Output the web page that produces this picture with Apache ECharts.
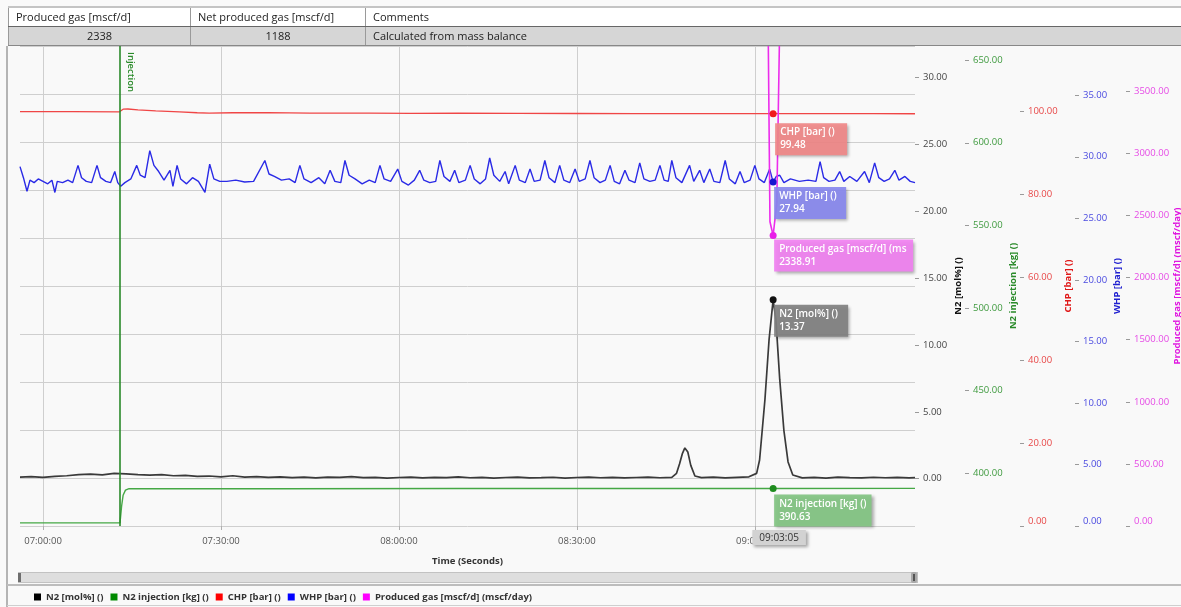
<!DOCTYPE html>
<html>
<head>
<meta charset="utf-8">
<script src="https://cdn.jsdelivr.net/npm/echarts@6/dist/echarts.min.js"></script>
<style>
  html, body { margin: 0; padding: 0; width: 1181px; height: 607px; overflow: hidden; background: #f9f9f9; font-family: 'Open Sans', sans-serif; }
  #chart { position: absolute; left: 0; top: 0; width: 1181px; height: 607px; }
  #summary { position: absolute; left: 8px; top: 6px; width: 1173px; border-collapse: collapse; font-size: 11px; color: #222; z-index: 2; table-layout: fixed; }
  #summary td { height: 18px; padding: 0 7px; border-left: 1px solid #9a9a9a; white-space: nowrap; overflow: hidden; line-height: 18px; }
  #summary tr.head td { background: #ffffff; border-top: 2px solid #c4c4c4; border-bottom: 1px solid #666; }
  #summary tr.vals td { background: #d6d6d6; border-bottom: 1px solid #888; }
  #summary td.c { text-align: center; }
  .rule { position: absolute; z-index: 2; }
  #frameLeft { left: 6px; top: 46px; width: 2px; height: 561px; background: #b4b4b4; }
  #scrollTrack { left: 18px; top: 572px; width: 898px; height: 9px; background: #dedede; border: 1px solid #c2c2c2; }
  #scrollHandleL { left: 18px; top: 573px; width: 3px; height: 9px; background: #6e6e6e; }
  #scrollHandleR { left: 911px; top: 572px; width: 6px; height: 11px; background: #a9a9a9; border-radius: 2px; }
  #scrollHandleR::after { content: ''; position: absolute; left: 2px; top: 2px; width: 2px; height: 7px; background: #555; }
  #legendTop { left: 7px; top: 584px; width: 1174px; height: 2px; background: #bdbdbd; }
  #legendBottom { left: 7px; top: 605px; width: 1174px; height: 1px; background: #cfcfcf; }
</style>
</head>
<body>
<div id="chart"></div>
<table id="summary"></table>
<div class="rule" id="frameLeft"></div>
<div class="rule" id="scrollTrack"></div>
<div class="rule" id="scrollHandleL"></div>
<div class="rule" id="scrollHandleR"></div>
<div class="rule" id="legendTop"></div>
<div class="rule" id="legendBottom"></div>
<script>
// ---- summary table ----
const summaryHeaders = ['Produced gas [mscf/d]', 'Net produced gas [mscf/d]', 'Comments'];
const summaryValues = ['2338', '1188', 'Calculated from mass balance'];

// ---- time base: x values are minutes after 07:00:00 ----
const timeTicks = [0, 30, 60, 90, 120];
const xMin = -3.88;
const xMax = 147.0;
const cursorMin = 123 + 5 / 60;     // 09:03:05 readout
const injectionMin = 13.0;          // 07:13:00 injection start

// ---- N2 [mol%] ----
const n2Time = [-3.88, -2, 0, 2, 4, 6, 8, 10, 12, 14, 16, 18, 20, 22, 24, 26, 28, 30, 32, 34, 36, 38, 40, 42, 44, 46, 48, 50,
  52, 54, 56, 58, 60, 62, 64, 66, 68, 70, 72, 74, 76, 78, 80, 82, 84, 86, 88, 90, 92, 94, 96, 98, 100, 102, 104, 106,
  106.8, 107.3, 107.8, 108.2, 108.7, 109.2, 109.9, 111, 113, 115, 117, 119,
  120.3, 120.8, 121.7, 122.4, cursorMin, 123.55, 124.2, 124.9, 125.6, 126.4,
  128, 130, 132, 134, 136, 138, 140, 142, 144, 146, 147];
const n2Value = [0.12, 0.15, 0.10, 0.18, 0.22, 0.30, 0.34, 0.28, 0.40, 0.36, 0.30, 0.26, 0.30, 0.22, 0.25, 0.18, 0.20, 0.14, 0.22, 0.12, 0.16, 0.10, 0.14, 0.08, 0.12, 0.06, 0.12, 0.10,
  0.15, 0.08, 0.10, 0.05, 0.09, 0.12, 0.06, 0.10, 0.08, 0.13, 0.07, 0.10, 0.05, 0.09, 0.12, 0.06, 0.08, 0.11, 0.05, 0.09, 0.12, 0.07, 0.10, 0.06, 0.09, 0.12, 0.07, 0.10,
  0.4, 1.1, 1.9, 2.3, 2.0, 1.0, 0.2, 0.08, 0.12, 0.06, 0.10, 0.14,
  0.4, 1.4, 5.9, 10.4, 13.37, 11.9, 7.4, 3.6, 1.25, 0.28,
  0.06, 0.10, 0.05, 0.12, 0.08, 0.06, 0.11, 0.07, 0.10, 0.06, 0.08];

// ---- N2 injection [kg] ----
const injTime = [-3.88, 12.98, 13.0, 13.25, 13.5, 13.9, 14.5, 16, 40, 70, 100, cursorMin, 147];
const injValue = [369.8, 369.8, 370.5, 380.0, 386.5, 389.6, 390.5, 390.5, 390.5, 390.6, 390.6, 390.63, 390.7];

// ---- CHP [bar] ----
const chpTime = [-3.88, 5, 12.9, 13.5, 14.3, 16, 19, 23, 26, 28, 32, 38, 45, 55, 62, 70, 80, 90, 100, 110, 118, cursorMin, 130, 140, 147];
const chpValue = [99.95, 99.95, 99.92, 100.55, 100.6, 100.4, 100.15, 99.9, 99.7, 99.62, 99.7, 99.72, 99.62, 99.6, 99.55, 99.58, 99.55, 99.52, 99.5, 99.5, 99.49, 99.48, 99.47, 99.47, 99.46];

// ---- WHP [bar] ----
const whpTime = [-3.88, -3.3, -2.7, -2.2, -1.5, -0.8, 0, 0.8, 1.5, 2.0, 2.4, 3.3, 4.2, 5.0, 5.9, 6.5, 7.3, 8.2, 9.1, 9.7,
  10.6, 11.4, 12.1, 12.6, 13.1, 13.8, 14.8, 15.8, 16.4, 17.2, 18.0, 18.7, 19.5, 20.4, 21.4, 21.9, 22.6, 23.2, 24.2, 25.2,
  26.2, 27.3, 28.1, 28.8, 29.8, 31, 32.5, 34, 35.5, 37.4, 38.1, 39, 40.2, 41.5, 42.5, 43.3, 44, 45.2, 46.5, 47.5,
  48.4, 49.2, 50.2, 50.9, 51.6, 52.6, 53.8, 55, 56, 56.8, 57.5, 58.6, 59.8, 60.5, 61.6, 62.6, 63.5, 64.2, 65.2, 66.2,
  66.9, 67.6, 68.6, 69.4, 70.1, 71.2, 72.0, 72.7, 73.7, 74.6, 75.3, 76.0, 77.0, 77.9, 78.5, 79.6, 80.3, 81.3, 82.1, 82.8,
  83.8, 84.6, 85.3, 86.3, 87.1, 87.8, 88.8, 89.7, 90.4, 91.4, 92.2, 92.9, 93.9, 94.8, 95.6, 96.3, 97.2, 98.1, 98.8, 99.8,
  100.6, 101.3, 102.3, 103.2, 104.0, 104.7, 105.4, 106.0, 106.7, 107.7, 109.0, 109.7, 110.7, 111.4, 112.4, 113.1, 114.1, 115.0, 115.7, 116.7,
  117.5, 118.2, 119.2, 120.0, 120.7, 121.6, 122.5, cursorMin, 123.6, 124.2, 124.9, 126, 127.5, 129, 130.3, 131.0, 131.6, 132.5, 133.5, 134.3,
  135.0, 136.0, 137.2, 138.5, 139.3, 140.2, 140.9, 141.8, 142.7, 143.6, 144.3, 145.3, 146.2, 147];
const whpValue = [29.2, 28.3, 27.2, 28.1, 27.9, 28.2, 28.0, 27.8, 28.1, 27.1, 28.0, 27.9, 28.1, 27.9, 29.3, 28.3, 28.0, 27.9, 29.3, 28.3,
  28.0, 27.9, 28.8, 27.9, 27.6, 27.9, 28.2, 29.3, 28.5, 28.3, 30.5, 29.3, 28.8, 28.1, 28.9, 27.6, 29.3, 28.2, 27.8, 28.3,
  28.0, 27.1, 29.4, 28.2, 28.0, 28.0, 28.1, 27.95, 28.0, 29.7, 28.6, 28.4, 28.1, 28.2, 27.9, 29.3, 28.2, 27.9, 28.3, 27.8,
  28.9, 28.0, 27.9, 29.7, 28.5, 28.2, 27.8, 28.1, 27.9, 29.3, 28.2, 28.0, 29.0, 28.0, 27.7, 28.1, 28.9, 28.1, 27.9, 28.0,
  29.7, 28.4, 28.0, 28.9, 27.9, 28.1, 29.3, 28.2, 27.8, 28.2, 29.9, 28.5, 28.0, 28.8, 27.8, 29.3, 28.1, 27.9, 29.0, 28.0,
  28.1, 29.7, 28.3, 27.9, 29.3, 28.1, 27.9, 29.0, 28.0, 28.2, 29.7, 28.3, 27.9, 28.1, 29.3, 28.0, 27.8, 28.9, 28.1, 27.9,
  29.5, 28.2, 28.0, 28.1, 29.3, 28.1, 28.0, 29.7, 28.3, 27.9, 29.3, 28.0, 28.9, 27.9, 29.0, 28.0, 27.9, 29.7, 28.2, 27.8,
  28.8, 27.9, 28.1, 29.3, 28.2, 27.9, 29.0, 27.94, 28.4, 28.5, 27.9, 28.2, 28.0, 28.1, 28.0, 29.6, 28.3, 28.0, 28.1, 28.8,
  28.0, 28.4, 28.0, 28.8, 27.9, 29.5, 28.3, 28.0, 28.2, 28.9, 28.1, 28.4, 28.0, 27.9];

// ---- Produced gas [mscf/d] ----
const gasTime = [122.15, 122.55, cursorMin, 123.7, 124.35, 126];
const gasValue = [4500, 2450, 2338.91, 2600, 4500, 4800];

// ---- y-axis tick values ----
const n2Ticks = [0, 5, 10, 15, 20, 25, 30];
const injTicks = [400, 450, 500, 550, 600, 650];
const chpTicks = [0, 20, 40, 60, 80, 100];
const whpTicks = [0, 5, 10, 15, 20, 25, 30, 35];
const gasTicks = [0, 500, 1000, 1500, 2000, 2500, 3000, 3500];

// ---- helpers ----
function pad2(n) { return (n < 10 ? '0' : '') + n; }
function clock(m) {
  const s = Math.round(7 * 3600 + m * 60);
  return pad2(Math.floor(s / 3600)) + ':' + pad2(Math.floor(s / 60) % 60) + ':' + pad2(s % 60);
}
function zip(t, v) { return t.map((x, i) => [x, v[i]]); }
function readout(t, v) { return v[t.indexOf(cursorMin)]; }

const FONT = 'Open Sans';

function table() {
  const el = document.getElementById('summary');
  const widths = [182, 175, 816];
  let html = '<colgroup>' + widths.map(w => '<col style="width:' + w + 'px">').join('') + '</colgroup>';
  html += '<tr class="head">' + summaryHeaders.map(h => '<td>' + h + '</td>').join('') + '</tr>';
  html += '<tr class="vals">' + summaryValues.map((v, i) => '<td' + (i < 2 ? ' class="c"' : '') + '>' + v + '</td>').join('') + '</tr>';
  el.innerHTML = html;
}
table();

function yAxisDef(name, min, max, ticks, offset, labelColor, nameColor, nameGap, alignMin) {
  return {
    type: 'value', position: 'right', offset: offset, min: min, max: max,
    axisLine: { show: false, onZero: false },
    axisTick: { show: true, customValues: ticks, length: 4, lineStyle: { color: '#9a9a9a' } },
    axisLabel: {
      customValues: ticks, formatter: v => v.toFixed(2), color: labelColor,
      fontSize: 9.5, fontFamily: FONT, margin: 8,
      verticalAlignMinLabel: alignMin ? 'bottom' : null
    },
    splitLine: { show: false },
    name: name, nameLocation: 'middle', nameRotate: 90, nameGap: nameGap, nameMoveOverlap: false,
    nameTextStyle: { color: nameColor, fontWeight: 'bold', fontSize: 9.5, fontFamily: FONT }
  };
}

function readoutMark(label, value, dotColor, bg, pos, width) {
  const lbl = {
    show: true, position: pos,
    formatter: p => label + '\n' + p.value.toFixed(2),
    color: '#ffffff', fontSize: 10, fontWeight: 600, fontFamily: FONT, lineHeight: 13,
    backgroundColor: bg, padding: [3, 5, 3, 5],
    shadowColor: 'rgba(0,0,0,0.35)', shadowBlur: 3, shadowOffsetX: 2, shadowOffsetY: 2
  };
  if (width) { lbl.width = width; lbl.overflow = 'truncate'; lbl.ellipsis = ''; }
  return {
    symbol: 'circle', symbolSize: 7, animation: false,
    itemStyle: { color: dotColor },
    label: lbl,
    data: [{ coord: [cursorMin, value], value: value }]
  };
}

function lineSeries(name, t, v, yIdx, color, lineColor, width) {
  return {
    name: name, type: 'line', yAxisIndex: yIdx, data: zip(t, v),
    showSymbol: false, symbol: 'none', clip: true,
    itemStyle: { color: color },
    lineStyle: { color: lineColor, width: width }
  };
}

const names = ['N2 [mol%] ()', 'N2 injection [kg] ()', 'CHP [bar] ()', 'WHP [bar] ()', 'Produced gas [mscf/d] (mscf/day)'];

const gasS = lineSeries(names[4], gasTime, gasValue, 4, '#ff00ff', '#ec2cec', 1.6);
gasS.markPoint = readoutMark('Produced gas [mscf/d] (mscf/day)', readout(gasTime, gasValue), '#e81ee8', 'rgba(240,128,240,0.92)', [4.5, 7.5], 129);

const chpS = lineSeries(names[2], chpTime, chpValue, 2, '#ff0000', '#f04646', 1.3);
chpS.markPoint = readoutMark('CHP [bar] ()', readout(chpTime, chpValue), '#f01c1c', 'rgba(240,136,136,0.92)', [5.5, 13], 62);

const whpS = lineSeries(names[3], whpTime, whpValue, 3, '#0000ff', '#2a2ae6', 1.4);
whpS.markPoint = readoutMark('WHP [bar] ()', readout(whpTime, whpValue), '#1515d0', 'rgba(136,136,238,0.92)', [4.5, 8.5], 62);

const n2S = lineSeries(names[0], n2Time, n2Value, 0, '#000000', '#3a3a3a', 1.7);
n2S.markPoint = readoutMark('N2 [mol%] ()', readout(n2Time, n2Value), '#111111', 'rgba(128,128,128,0.92)', [4.5, 8.5], 64);

const injS = lineSeries(names[1], injTime, injValue, 1, '#008a00', '#45a845', 1.4);
injS.markPoint = readoutMark('N2 injection [kg] ()', readout(injTime, injValue), '#1e8c1e', 'rgba(130,196,130,0.92)', [4.5, 9.5], null);
injS.markLine = {
  symbol: ['none', 'none'], silent: true, animation: false,
  data: [
    { xAxis: injectionMin, lineStyle: { color: '#2a8a2a', width: 1.6, type: 'solid' }, label: { show: false } },
    {
      xAxis: cursorMin, lineStyle: { color: 'rgba(0,0,0,0)', width: 1 },
      label: {
        show: true, position: 'start', distance: 4, offset: [6, 0],
        formatter: p => clock(p.value),
        color: '#333', fontSize: 10, fontFamily: FONT, opacity: 1,
        backgroundColor: '#d2d2d2', padding: [3, 7, 2, 7],
        shadowColor: 'rgba(0,0,0,0.35)', shadowBlur: 3, shadowOffsetX: 2, shadowOffsetY: 2
      }
    }
  ]
};

const chart = echarts.init(document.getElementById('chart'), null, { renderer: 'canvas' });
const option = {
  animation: false,
  backgroundColor: 'transparent',
  textStyle: { fontFamily: FONT },
  grid: { left: 20, right: 266, top: 46, bottom: 81, containLabel: false, outerBoundsMode: 'none' },
  legend: {
    left: 29, top: 586, icon: 'rect', itemWidth: 7, itemHeight: 7, itemGap: 7,
    textStyle: { fontSize: 9.5, fontWeight: 'bold', color: '#333', fontFamily: FONT, lineHeight: 12 },
    data: names, selectedMode: false
  },
  xAxis: {
    type: 'value', min: xMin, max: xMax,
    axisLine: { show: false, onZero: false },
    axisTick: { show: true, customValues: timeTicks, length: 4, lineStyle: { color: '#b0b0b0' } },
    axisLabel: { customValues: timeTicks, formatter: v => clock(v), color: '#555', fontSize: 9.5, fontFamily: FONT, margin: 10 },
    splitLine: { show: true, lineStyle: { color: '#cfcfcf', width: 1 } },
    name: 'Time (Seconds)', nameLocation: 'middle', nameGap: 30,
    nameTextStyle: { fontWeight: 'bold', fontSize: 9.5, color: '#333', fontFamily: FONT }
  },
  yAxis: [
    yAxisDef('N2 [mol%] ()', -3.535, 32.34, n2Ticks, 0, '#444', '#111', 38, false),
    yAxisDef('N2 injection [kg] ()', 367.9, 658.6, injTicks, 50, '#3f9a3f', '#2a8a2a', 43, false),
    yAxisDef('CHP [bar] ()', 0, 115.8, chpTicks, 105, '#e84848', '#e01818', 43, true),
    yAxisDef('WHP [bar] ()', 0, 39.0, whpTicks, 160, '#4a4ae0', '#2020d0', 37, true),
    yAxisDef('Produced gas [mscf/d] (mscf/day)', 0, 3865, gasTicks, 211, '#e64ae6', '#e018e0', 46, true),
    {
      // background grid: ten equal horizontal bands
      type: 'value', position: 'left', min: 0, max: 10, interval: 1,
      axisLine: { show: false, onZero: false }, axisTick: { show: false }, axisLabel: { show: false },
      splitLine: { show: true, lineStyle: { color: '#cfcfcf', width: 1 } }
    }
  ],
  series: [n2S, injS, chpS, whpS, gasS]
};
chart.setOption(option);

// vertical "Injection" caption beside the injection marker
const injX = chart.convertToPixel({ xAxisIndex: 0 }, injectionMin);
const topY = chart.convertToPixel({ yAxisIndex: 5 }, 10);
chart.setOption({
  graphic: [{
    type: 'text', x: injX + 11, y: topY + 6, rotation: -Math.PI / 2, z: 10,
    style: { text: 'Injection', fill: '#2a8a2a', fontSize: 9.5, fontWeight: 600, fontFamily: FONT, align: 'left', verticalAlign: 'middle' }
  }]
});
</script>
</body>
</html>
